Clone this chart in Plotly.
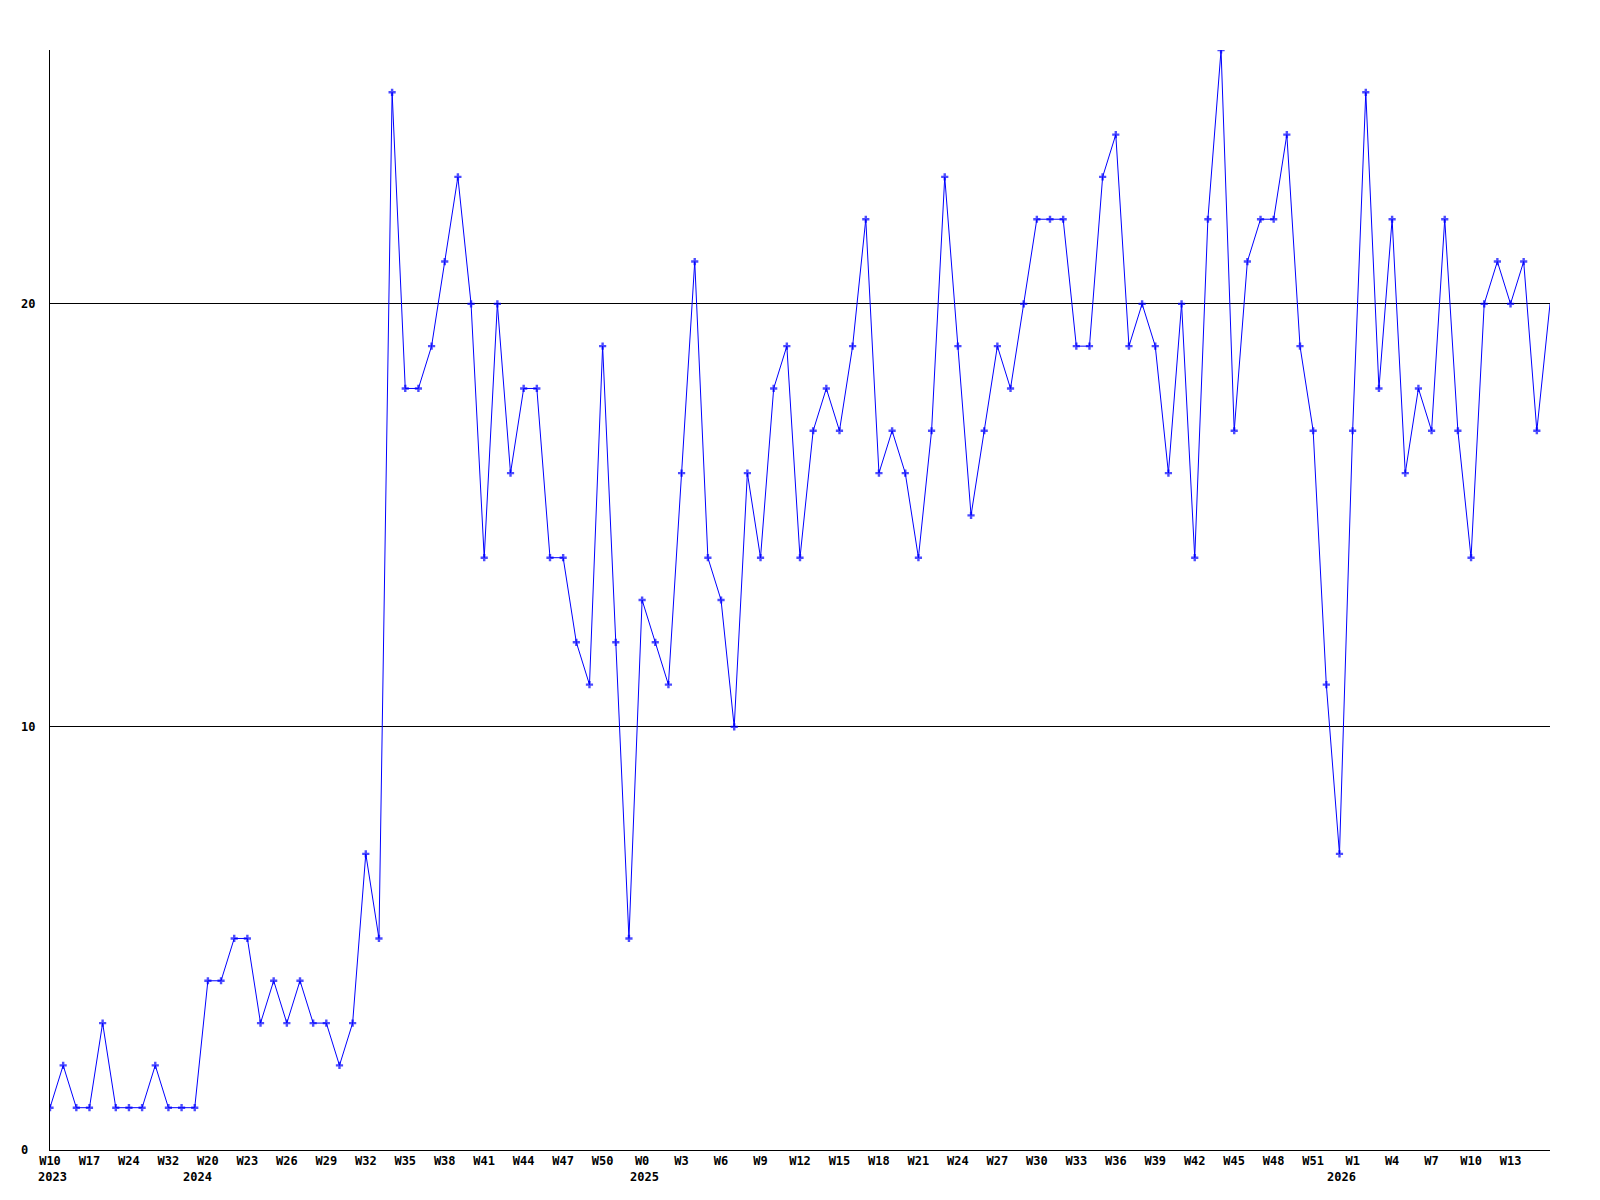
import plotly.graph_objects as go

values = [1, 2, 1, 1, 3, 1, 1, 1, 2, 1, 1, 1, 4, 4, 5, 5, 3, 4, 3, 4, 3, 3, 2, 3, 7, 5,
          25, 18, 18, 19, 21, 23, 20, 14, 20, 16,
          18, 18, 14, 14, 12, 11, 19, 12, 5, 13,
          12, 11, 16, 21, 14, 13, 10, 16, 14, 18,
          19, 14, 17, 18, 17, 19, 22, 16, 17, 16,
          14, 17, 23, 19, 15, 17, 19, 18, 20, 22,
          22, 22, 19, 19, 23, 24, 19, 20, 19, 16,
          20, 14, 22, 26, 17, 21, 22, 22, 24, 19,
          17, 11, 7, 17, 25, 18, 22, 16, 18, 17,
          22, 17, 14, 20, 21, 20, 21, 17, 20]

tick_weeks = ["W10", "W17", "W24", "W32", "W20", "W23", "W26", "W29", "W32", "W35",
              "W38", "W41", "W44", "W47", "W50", "W0", "W3", "W6", "W9", "W12",
              "W15", "W18", "W21", "W24", "W27", "W30", "W33", "W36", "W39", "W42",
              "W45", "W48", "W51", "W1", "W4", "W7", "W10", "W13"]
years = ["2023", "2024", "2025", "2026"]
year_first_point = [0, 11, 45, 98]
y_ticks = [0, 10, 20]

TICK_STEP = 3
x = list(range(len(values)))
tickvals = [i * TICK_STEP for i in range(len(tick_weeks))]

font = dict(family="DejaVu Sans Mono", size=12, color="black", weight="bold")

sizes = [6] * (len(values) - 1) + [0]

fig = go.Figure()
fig.add_trace(go.Scatter(
    x=x, y=values, mode="lines+markers",
    line=dict(color="#0000ff", width=1),
    marker=dict(symbol="cross", size=sizes, color="#0000ff", line=dict(width=0)),
    showlegend=False, hoverinfo="x+y",
))

for v in y_ticks:
    fig.add_annotation(x=-0.0209, xref="paper", xanchor="left", y=v, yref="y",
                       yanchor="middle", text=str(v), showarrow=False, font=font)

for yr, idx in zip(years, year_first_point):
    fig.add_annotation(x=idx, xref="x", xanchor="center", xshift=2.5,
                       y=0, yref="paper", yanchor="middle", yshift=-27,
                       text=yr, showarrow=False, font=font)

fig.update_layout(
    width=1600, height=1200,
    margin=dict(l=42, r=58, t=42, b=58, pad=0),
    paper_bgcolor="white", plot_bgcolor="white",
    xaxis=dict(range=[0, len(values) - 1], tickvals=tickvals, ticktext=tick_weeks,
               tickfont=font, showgrid=False, zeroline=False, showline=True,
               linecolor="black", linewidth=1, ticks="", tickangle=0),
    yaxis=dict(range=[0, 26], tickvals=[10, 20], showticklabels=False,
               showgrid=True, gridcolor="black", gridwidth=1, zeroline=False,
               showline=True, linecolor="black", linewidth=1, ticks=""),
)

fig.write_html("out.html")
